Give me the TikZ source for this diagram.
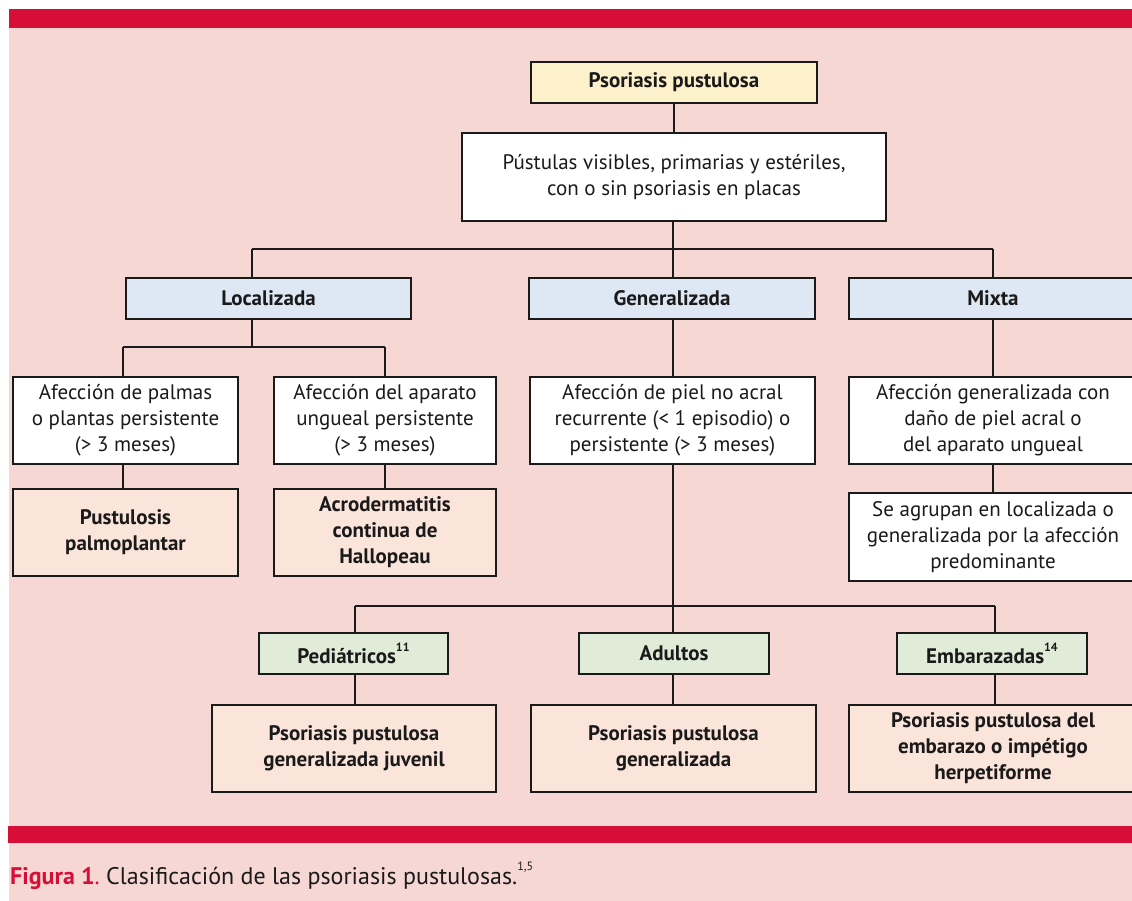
\documentclass[tikz,border=0pt]{standalone}
\usepackage{fontspec}
\setmainfont{PT Sans}
\definecolor{bg}{HTML}{F6D7D3}
\definecolor{band}{HTML}{D70F38}
\definecolor{cyel}{HTML}{FDF1CB}
\definecolor{cblue}{HTML}{DDE8F4}
\definecolor{cgreen}{HTML}{E1ECD8}
\definecolor{cpeach}{HTML}{FBE4DA}
\definecolor{ink}{HTML}{1A1A1A}
\newcommand{\supnum}[1]{\raisebox{0.55em}{\fontsize{12}{12}\selectfont #1}}
\begin{document}
\begin{tikzpicture}[x=1pt,y=-1pt,
  box/.style={draw=ink, line width=1.5pt, inner sep=0pt, align=center, text=ink,
    font=\fontsize{21}{26}\selectfont},
  hd/.style={box, font=\bfseries\fontsize{21}{26}\selectfont, minimum height=41pt},
  tall/.style={box, minimum height=87pt},
  talb/.style={box, font=\bfseries\fontsize{21}{26}\selectfont, minimum height=87pt, fill=cpeach},
  link/.style={line width=1.5pt, draw=ink}]
\useasboundingbox (0,0) rectangle (1132,901);
\clip (0,0) rectangle (1132,901);
% background
\fill[white] (0,0) rectangle (1132,901);
\fill[bg] (9,9) rectangle (1132,901);
\fill[band] (9,9) rectangle (1132,28);
\fill[band] (8,826) rectangle (1132,843);

% level 0/1
\node[hd, fill=cyel, minimum width=286pt] (top) at (674,82.5) {Psoriasis pustulosa};
\node[box, fill=white, minimum width=424pt, minimum height=88pt] (pust) at (674,177)
  {Pústulas visibles, primarias y estériles,\\con o sin psoriasis en placas};

% level 2
\node[hd, fill=cblue, minimum width=285pt] (loc) at (268.5,298.5) {Localizada};
\node[hd, fill=cblue, minimum width=286pt] (gen) at (672,298.5) {Generalizada};
\node[hd, fill=cblue, minimum width=288pt] (mix) at (993,298.5) {Mixta};

% level 3
\node[tall, fill=white, minimum width=225pt] (palm) at (125.5,420.5)
  {Afección de palmas\\o plantas persistente\\(> 3 meses)};
\node[tall, fill=white, minimum width=222pt] (ung) at (385,420.5)
  {Afección del aparato\\ungueal persistente\\(> 3 meses)};
\node[tall, fill=white, minimum width=285pt] (piel) at (672.5,420.5)
  {Afección de piel no acral\\recurrente (< 1 episodio) o\\persistente (> 3 meses)};
\node[tall, fill=white, minimum width=288pt] (mixa) at (993,420.5)
  {Afección generalizada con\\daño de piel acral o\\del aparato ungueal};

% level 4
\node[talb, minimum width=225pt] (ppp) at (125.5,532.5) {Pustulosis\\palmoplantar};
\node[talb, minimum width=222pt] (acro) at (385,532.5) {Acrodermatitis\\continua de\\Hallopeau};
\node[box, fill=white, minimum width=288pt, minimum height=88pt] (agr) at (993,537)
  {Se agrupan en localizada o\\generalizada por la afección\\predominante};

% level 5
\node[hd, fill=cgreen, minimum width=189pt] (ped) at (353.5,653.5) {Pediátricos\supnum{11}};
\node[hd, fill=cgreen, minimum width=190pt] (adu) at (674,653.5) {Adultos};
\node[hd, fill=cgreen, minimum width=190pt] (emb) at (992,653.5) {Embarazadas\supnum{14}};

% level 6
\node[talb, minimum width=284pt] (juv) at (354,748.5) {Psoriasis pustulosa\\generalizada juvenil};
\node[talb, minimum width=285pt] (ppg) at (673.5,748.5) {Psoriasis pustulosa\\generalizada};
\node[talb, minimum width=288pt] (emz) at (993,748.5) {Psoriasis pustulosa del\\embarazo o impétigo\\herpetiforme};

% junction coordinates
\coordinate (b1) at (673,249);
\coordinate (b1l) at (252,249);
\coordinate (b1r) at (993,249);
\coordinate (l1) at (252,347);
\coordinate (l1l) at (123,347);
\coordinate (l1r) at (385,347);
\coordinate (g1) at (673,606);
\coordinate (g1l) at (355,606);
\coordinate (g1r) at (995,606);

% connectors
\draw[link] (top.south) -- (top.south |- pust.north);
\draw[link] (pust.south -| b1) -- (b1);
\draw[link] (b1l) -- (b1r);
\draw[link] (b1l) -- (b1l |- loc.north);
\draw[link] (b1) -- (b1 |- gen.north);
\draw[link] (b1r) -- (b1r |- mix.north);

\draw[link] (loc.south -| l1) -- (l1);
\draw[link] (l1l) -- (l1r);
\draw[link] (l1l) -- (l1l |- palm.north);
\draw[link] (l1r) -- (l1r |- ung.north);
\draw[link] (palm.south -| l1l) -- (l1l |- ppp.north);
\draw[link] (ung.south) -- (acro.north);

\draw[link] (gen.south -| b1) -- (b1 |- piel.north);
\draw[link] (piel.south -| g1) -- (g1);
\draw[link] (g1l) -- (g1r);
\draw[link] (g1l) -- (g1l |- ped.north);
\draw[link] (g1) -- (g1 |- adu.north);
\draw[link] (g1r) -- (g1r |- emb.north);
\draw[link] (ped.south -| g1l) -- (g1l |- juv.north);
\draw[link] (adu.south -| g1) -- (g1 |- ppg.north);
\draw[link] (emb.south -| g1r) -- (g1r |- emz.north);

\draw[link] (mix.south -| b1r) -- (b1r |- mixa.north);
\draw[link] (mixa.south -| b1r) -- (b1r |- agr.north);

% caption
\node[anchor=base west, inner sep=0pt, text=ink, font=\fontsize{24}{28}\selectfont] (cap) at (10,884)
  {\textcolor{band}{\bfseries Figura 1}\textcolor{band}{.}\ Clasificación de las psoriasis pustulosas.\supnum{1,5}};
\end{tikzpicture}
\end{document}
